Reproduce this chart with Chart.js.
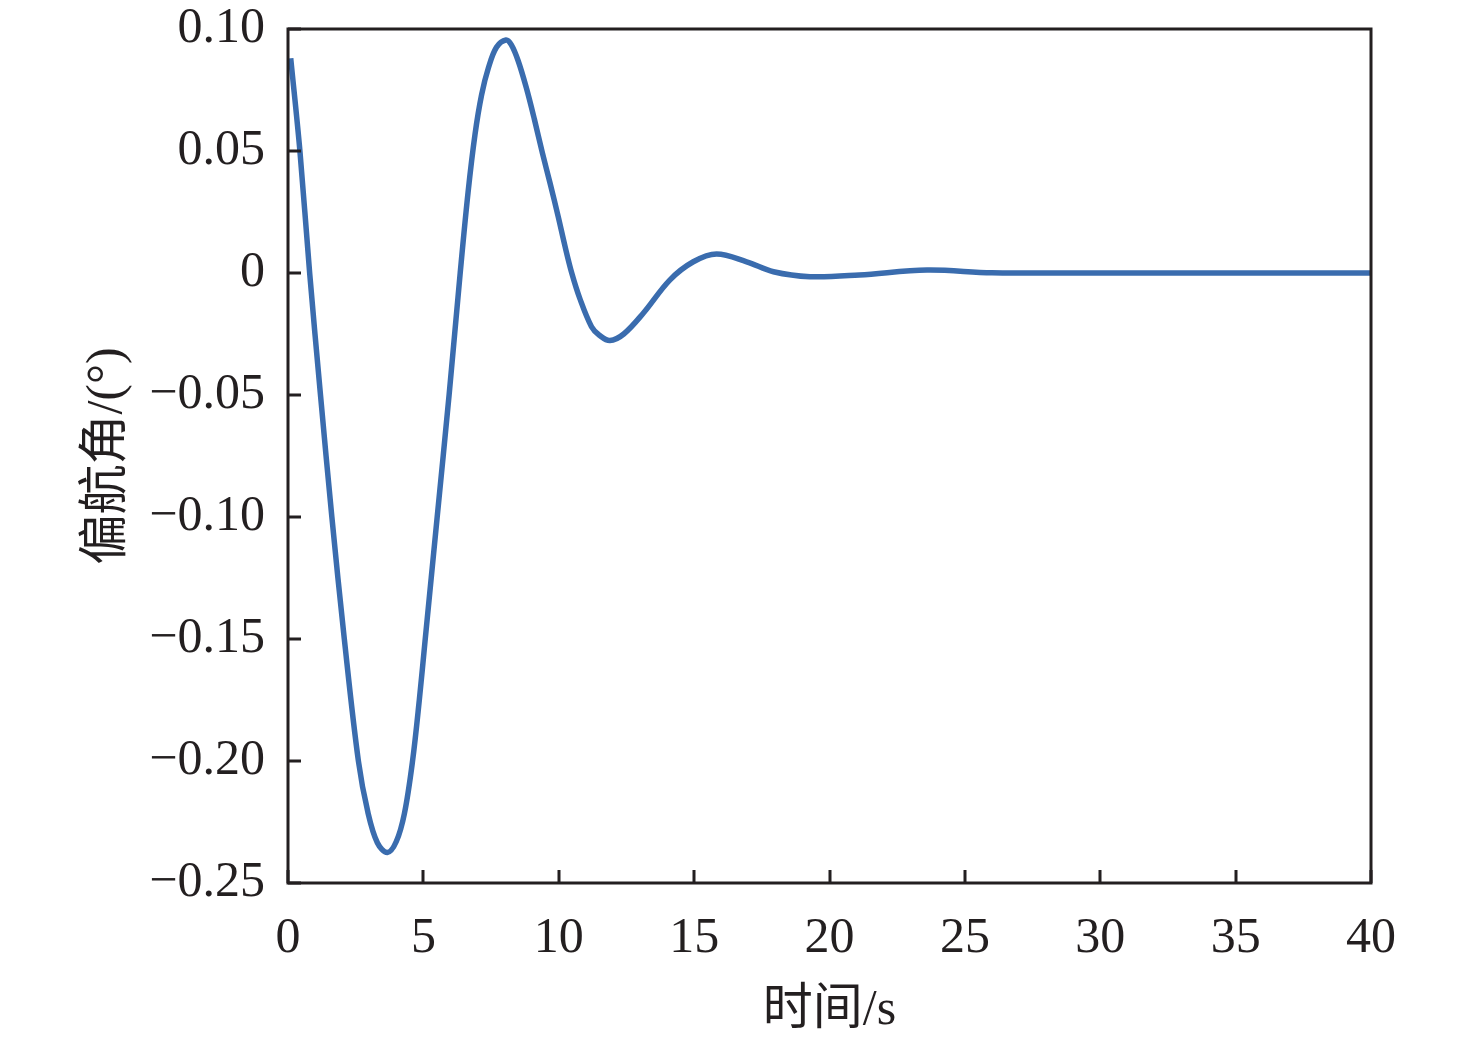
<!DOCTYPE html>
<html>
<head>
<meta charset="utf-8">
<script src="https://cdn.jsdelivr.net/npm/chart.js@4/dist/chart.umd.min.js"></script>
<style>
  html, body { margin: 0; padding: 0; background: #fff; }
  #wrap { width: 1476px; height: 1043px; }
</style>
</head>
<body>
<div id="wrap"><canvas id="yaw" width="1476" height="1043"></canvas></div>
<script>
// time (s) and yaw angle (deg)
var timeS = [0.1, 0.44, 0.8, 1.2, 1.62, 2.08, 2.6, 2.95, 3.3, 3.67, 4.0, 4.3, 4.6, 4.85,
  5.06, 5.51, 5.95, 6.36, 6.65, 6.91, 7.15, 7.4, 7.7, 8.05, 8.25, 8.5, 8.8, 9.1, 9.4, 9.68,
  9.98, 10.23, 10.48, 10.78, 11.21, 11.5, 11.89, 12.4, 13.12, 14.1, 14.97, 15.83, 16.94,
  17.93, 19.28, 21.1, 23.6, 26, 30, 35, 40];
var yawDeg = [0.088, 0.05, 0, -0.05, -0.10, -0.15, -0.20, -0.221, -0.2335, -0.2375, -0.233, -0.2215, -0.20, -0.175,
  -0.151, -0.10, -0.05, 0, 0.033, 0.057, 0.073, 0.084, 0.0925, 0.0955, 0.0935, 0.087, 0.076, 0.063, 0.049, 0.0368,
  0.0231, 0.011, 0, -0.0105, -0.022, -0.0255, -0.0277, -0.025, -0.0165, -0.0029, 0.0046, 0.0078, 0.0046,
  0.0005, -0.0015, -0.0008, 0.0012, 0.0001, 0, 0, 0];

var xTicks = [0, 5, 10, 15, 20, 25, 30, 35, 40];
var yTicks = [0.10, 0.05, 0, -0.05, -0.10, -0.15, -0.20, -0.25];

var points = timeS.map(function (t, i) { return { x: t, y: yawDeg[i] }; });

function fmt(v) {
  if (Math.abs(v) < 1e-9) return '0';
  var s = Math.abs(v).toFixed(2);
  return v < 0 ? '\u2212' + s : s;
}

// frame + inward tick marks
var frame = {
  id: 'frame',
  afterDraw: function (chart) {
    var c = chart.ctx, a = chart.chartArea;
    var xs = chart.scales.x, ys = chart.scales.y;
    c.save();
    c.strokeStyle = '#231f20';
    c.lineWidth = 3;
    c.strokeRect(a.left, a.top, a.right - a.left, a.bottom - a.top);
    c.beginPath();
    xs.ticks.forEach(function (t) {
      var px = Math.round(xs.getPixelForValue(t.value));
      c.moveTo(px, a.bottom);
      c.lineTo(px, a.bottom - 13);
    });
    ys.ticks.forEach(function (t) {
      var py = Math.round(ys.getPixelForValue(t.value));
      c.moveTo(a.left, py);
      c.lineTo(a.left + 13, py);
    });
    c.stroke();
    c.restore();
  }
};

var serif = "'Liberation Serif', 'Times New Roman', 'Noto Sans CJK SC', serif";

new Chart(document.getElementById('yaw').getContext('2d'), {
  type: 'line',
  data: {
    datasets: [{
      data: points,
      borderColor: '#3a6cae',
      borderWidth: 5.5,
      pointRadius: 0,
      fill: false,
      tension: 0.35
    }]
  },
  options: {
    responsive: false,
    animation: false,
    layout: { padding: { left: 0, right: 105, top: 29, bottom: 0 } },
    plugins: { legend: { display: false }, tooltip: { enabled: false } },
    scales: {
      x: {
        type: 'linear',
        min: 0,
        max: 40,
        afterBuildTicks: function (s) { s.ticks = xTicks.map(function (v) { return { value: v }; }); },
        afterFit: function (s) { s.height = 160; s.paddingLeft = 0; s.paddingRight = 0; },
        grid: { display: false },
        border: { display: false },
        ticks: { color: '#231f20', font: { family: serif, size: 50 }, padding: 18, maxRotation: 0 },
        title: {
          display: true,
          text: '时间/s',
          color: '#231f20',
          font: { family: serif, size: 50 },
          padding: { top: 0, bottom: 2 }
        }
      },
      y: {
        type: 'linear',
        min: -0.25,
        max: 0.10,
        afterBuildTicks: function (s) { s.ticks = yTicks.map(function (v) { return { value: v }; }); },
        afterFit: function (s) { s.width = 288; s.paddingTop = 0; s.paddingBottom = 0; },
        grid: { display: false },
        border: { display: false },
        ticks: { color: '#231f20', font: { family: serif, size: 50 }, padding: 15, callback: fmt },
        title: {
          display: true,
          text: '偏航角/(°)',
          color: '#231f20',
          font: { family: serif, size: 50 },
          padding: { top: 78, bottom: 0 }
        }
      }
    }
  },
  plugins: [frame]
});
</script>
</body>
</html>
